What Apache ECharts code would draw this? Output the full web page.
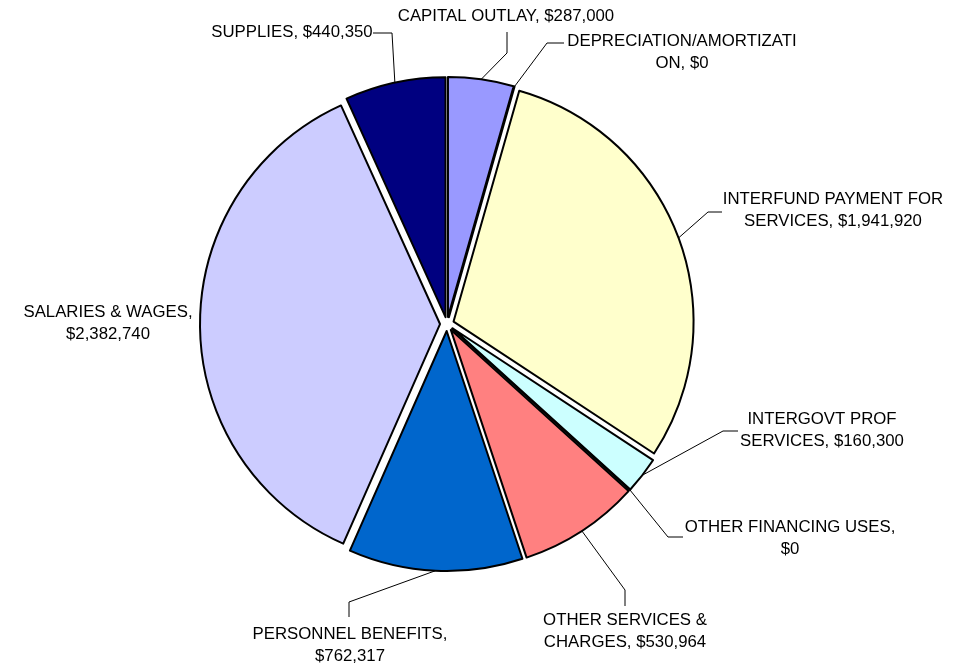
<!DOCTYPE html>
<html>
<head>
<meta charset="utf-8">
<title>Expenditures by Category</title>
<script src="https://cdn.jsdelivr.net/npm/echarts@6/dist/echarts.min.js"></script>
<style>
  html, body { margin: 0; padding: 0; background: #fff; }
  #chart { width: 962px; height: 666px; }
</style>
</head>
<body>
<div id="chart"></div>
<script>
// Expenditure categories, clockwise from 12 o'clock
const categories = [
  'CAPITAL OUTLAY',
  'DEPRECIATION/AMORTIZATION',
  'INTERFUND PAYMENT FOR SERVICES',
  'INTERGOVT PROF SERVICES',
  'OTHER FINANCING USES',
  'OTHER SERVICES & CHARGES',
  'PERSONNEL BENEFITS',
  'SALARIES & WAGES',
  'SUPPLIES'
];
const amounts = [287000, 0, 1941920, 160300, 0, 530964, 762317, 2382740, 440350];

// Label text as it wraps on the chart
const labelTexts = [
  'CAPITAL OUTLAY, $287,000',
  'DEPRECIATION/AMORTIZATI\nON, $0',
  'INTERFUND PAYMENT FOR\nSERVICES, $1,941,920',
  'INTERGOVT PROF\nSERVICES, $160,300',
  'OTHER FINANCING USES,\n$0',
  'OTHER SERVICES &\nCHARGES, $530,964',
  'PERSONNEL BENEFITS,\n$762,317',
  'SALARIES & WAGES,\n$2,382,740',
  'SUPPLIES, $440,350'
];

const sliceColors = ['#9999FF', '#993366', '#FFFFCC', '#CCFFFF', '#660066', '#FF8080', '#0066CC', '#CCCCFF', '#000080'];

// Label block centres (px)
const labelSpots = [
  [506, 16], [682, 52], [833, 210], [822, 430], [790, 538],
  [625, 631], [350, 645], [108, 323], [292, 32]
];

// Leader line ends relative to each label centre: [end point, elbow point];
// null = no leader line
const leaderLegs = [
  [[1, 16], [1, 37]],
  [[-118, -9], [-135, -9]],
  [[-111, 2], [-125, 2]],
  [[-84, 1], [-99, 1]],
  [[-107, -1], [-122, -1]],
  [[0, -25], [0, -41]],
  [[-1, -28], [-1, -43]],
  null,
  [[81, 1], [100, 1]]
];

const PIE_CENTER = [447, 324];
const PIE_RADIUS = 240;
const EXPLODE = 7;   // every slice pulled out from the centre by this many px

const chart = echarts.init(document.getElementById('chart'), null, { renderer: 'canvas' });

// Each slice gets its own pie series (same data, others hidden) so that it can
// be pushed outward along its own bisector.
const total = amounts.reduce((a, b) => a + b, 0);
let running = 0;
const series = amounts.map((amt, i) => {
  const mid = (running + amt / 2) / total * 2 * Math.PI; // clockwise from north
  running += amt;
  const center = [
    PIE_CENTER[0] + EXPLODE * Math.sin(mid),
    PIE_CENTER[1] - EXPLODE * Math.cos(mid)
  ];
  // point on the slice's outer arc, on its bisector
  const arcPoint = [
    center[0] + PIE_RADIUS * Math.sin(mid),
    center[1] - PIE_RADIUS * Math.cos(mid)
  ];
  const spot = labelSpots[i];
  const legs = leaderLegs[i];
  return {
    type: 'pie',
    center: center,
    radius: PIE_RADIUS,
    startAngle: 90,
    clockwise: true,
    avoidLabelOverlap: false,
    minShowLabelAngle: 0,
    stillShowZeroSum: true,
    silent: true,
    emphasis: { disabled: true },
    label: {
      show: true,
      position: 'outside',
      color: '#000000',
      fontFamily: 'Liberation Sans, Arial, sans-serif',
      fontSize: 16.8,
      lineHeight: 22
    },
    labelLine: {
      show: true,
      length: 10,
      length2: 14,
      lineStyle: { color: '#000000', width: 1 }
    },
    labelLayout: function (params) {
      if (params.dataIndex !== i) return {};
      const out = { x: spot[0], y: spot[1], align: 'center', verticalAlign: 'middle' };
      if (legs) {
        out.labelLinePoints = [
          arcPoint,
          [spot[0] + legs[1][0], spot[1] + legs[1][1]],
          [spot[0] + legs[0][0], spot[1] + legs[0][1]]
        ];
      }
      return out;
    },
    data: categories.map((name, j) => j === i ? {
      name: name,
      value: amounts[j],
      itemStyle: { color: sliceColors[j], borderColor: '#000000', borderWidth: 2 },
      label: { formatter: labelTexts[j] },
      labelLine: { show: !!legs }
    } : {
      name: name,
      value: amounts[j],
      itemStyle: { color: 'rgba(0,0,0,0)', borderWidth: 0 },
      label: { show: false },
      labelLine: { show: false }
    })
  };
});

chart.setOption({
  animation: false,
  backgroundColor: '#ffffff',
  series: series
});
</script>
</body>
</html>
